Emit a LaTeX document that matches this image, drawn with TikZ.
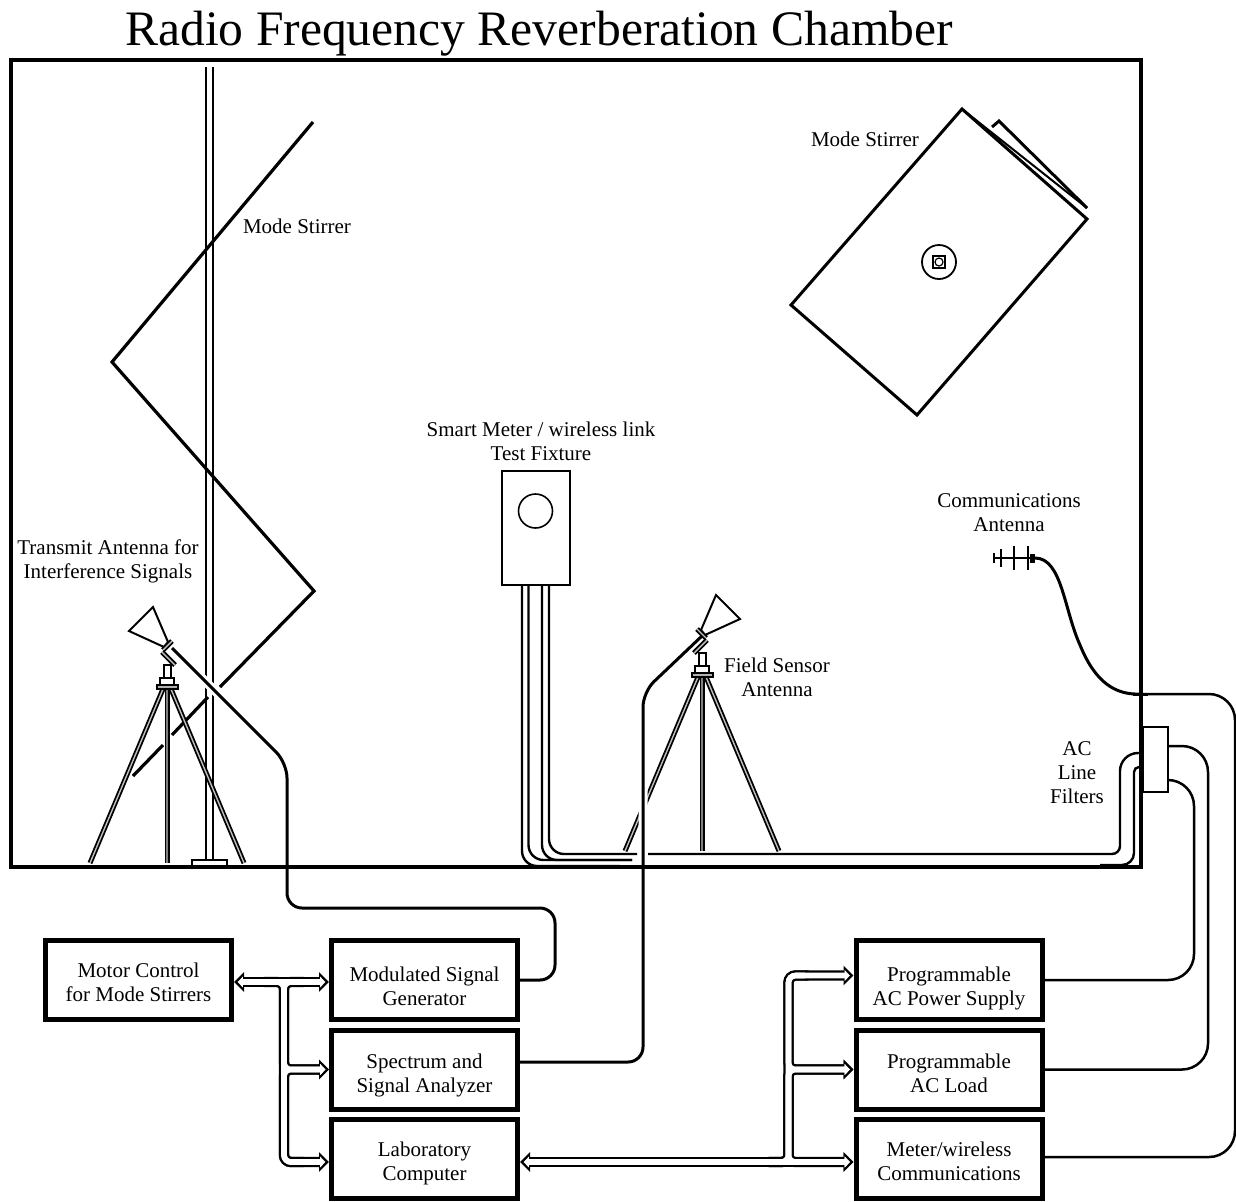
\documentclass[tikz,border=0pt]{standalone}
\usepackage{fontspec}
\setmainfont{Liberation Serif}
\usetikzlibrary{arrows.meta,positioning}
\tikzset{
  instrument/.style={draw,line width=2.5pt,minimum width=93pt,minimum height=39.5pt,align=center,inner sep=0pt,text height=25.5pt},
  caption/.style={align=center,inner sep=0pt},
  cable/.style={line width=1.5pt,rounded corners=7.5pt,preaction={draw=white,line width=4.5pt}},
  wire/.style={line width=1.2pt,rounded corners=7.5pt},
  thin part/.style={line width=1pt,line join=miter},
  leg/.style={double=gray!50,double distance=.7pt,line width=.9pt},
  busblack/.style={line width=5.2pt,rounded corners=3.5pt,>={Triangle[length=5pt,width=9.5pt]}},
  buswhite/.style={white,line width=2.8pt,rounded corners=3.5pt,shorten >=1.8pt,shorten <=1.8pt,>={Triangle[length=2.6pt,width=5.2pt]}},
  antennalegs/.pic={
    \draw[leg] (-4,2)--(-77,176);
    \draw[leg,double=gray] (0,2)--(0,176);
    \draw[leg] (4,2)--(77,176);
  },
  antennahead/.pic={
    \draw[thin part,fill=white] (14,-80)--(38,-56)--(3,-40)--(-1,-45)--cycle;
    \draw[leg] (-5,-46)--(4,-37);
    \draw[leg] (5,-35)--(-8,-22);
    \draw[thin part,fill=white] (-3.5,-22) rectangle (3.5,-9);
    \draw[thin part,fill=white] (-7,-9) rectangle (7,-2);
    \draw[thin part,fill=gray!60] (-10.5,-2) rectangle (10.5,2);
  }
}
\begin{document}
\begin{tikzpicture}[x=0.5pt,y=-0.5pt,every node/.style={font=\fontsize{10.5}{12}\selectfont},node distance=2.75pt]
\useasboundingbox (0,0) rectangle (1236,1201);
\node[inner sep=0pt,font=\fontsize{24.8}{28}\selectfont] (title) at (539,34) {Radio Frequency Reverberation Chamber};

% bench instruments
\node[instrument,text height=26pt] (mod) at (424.5,980) {Modulated Signal\\Generator};
\node[instrument,below=of mod] (spec) {Spectrum and\\Signal Analyzer};
\node[instrument,text height=24pt,below=of spec] (lab) {Laboratory\\Computer};
\node[instrument,text height=22pt,left=47.5pt of mod] (motor) {Motor Control\\for Mode Stirrers};
\node[instrument,text height=28pt] (supply) at (949,980) {Programmable\\AC Power Supply};
\node[instrument,text height=23.5pt,below=of supply] (load) {Programmable\\AC Load};
\node[instrument,text height=22pt,below=of load] (meter) {Meter/wireless\\Communications};

% stirrer on the left, pole first
\draw[line width=1pt] (206,67)--(206,860) (213,67)--(213,860);
\draw[line width=1pt] (192,860) rectangle (227,866);
\draw[line width=1.6pt,line join=miter] (313,122)--(112,362)--(314,591)--(220,687);
\draw[line width=1.6pt] (208,697)--(172,735) (163,745)--(133,776);
\pic[xscale=-1] at (167,687) {antennalegs};
\pic at (702,675) {antennalegs};

% stirrer on the right
\draw[line width=1.5pt,line join=miter] (962,109)--(1087,219)--(917,415)--(791,305)--cycle;
\draw[line width=1pt] (962,109)--(1087,208);
\draw[line width=1.5pt,line join=miter] (992,127)--(999,121)--(1087,208);
\node[draw,circle,line width=.9pt,minimum size=17pt,inner sep=0pt] (hub) at (939,262) {};
\node[draw,line width=.9pt,minimum size=6pt,inner sep=0pt] (hubsquare) at (939,262) {};
\node[draw,circle,line width=.6pt,minimum size=4pt,inner sep=0pt] (hubshaft) at (939,262) {};

% test fixture
\node[draw,line width=1pt,minimum width=34pt,minimum height=57pt,inner sep=0pt] (fixture) at (535.5,528) {};
\node[draw,circle,line width=.8pt,minimum size=17pt,inner sep=0pt] (port) at (535.5,511) {};
\node[draw,line width=1pt,minimum width=12.5pt,minimum height=32.5pt,inner sep=0pt] (filters) at (1155.5,759.5) {};

\coordinate (txfeed) at (172,648);
\coordinate (rxfeed) at (703,635);
\coordinate (acwall) at (1100,865);
\coordinate (fixwall) at (620,866);
\draw[wire] ([xshift=-6.75pt]fixture.south)--(522,866)--(fixwall);
\draw[wire] ([xshift=-3.5pt]fixture.south)--(528.5,860)--(632,860);
\draw[wire] ([xshift=3.25pt]fixture.south)--(542,860)--(632,860);
\draw[wire] ([xshift=6.75pt]fixture.south)--(549,854)--(637,854);
\draw[wire,rounded corners=4pt] (648,854)--(1120,854)[rounded corners=9pt]--(1120,753)--([yshift=3.25pt]filters.west);
\draw[wire,rounded corners=6pt] (acwall)--(1134,865)[rounded corners=2.5pt]--(1134,767)--([yshift=-3.75pt]filters.west);

% cables
\draw[cable] (txfeed)--(287,763)--(287,908)--(555,908)--(555,980)--(mod.east);
\draw[cable] ([yshift=3.75pt]spec.east)--(643,1062)--(643,692)--(rxfeed);
\pic[xscale=-1] at (167,687) {antennahead};
\pic at (702,675) {antennahead};
\draw[line width=1.25pt,rounded corners=13pt] (supply.east)--(1194,980)--(1194,780)--([yshift=-10.25pt]filters.east);
\draw[line width=1.25pt,rounded corners=13pt] (load.east)--(1208,1069.5)--(1208,746)--([yshift=6.75pt]filters.east);

% communications antenna
\coordinate (yagifeed) at (1035,558);
\draw[line width=1pt] (994,558)--(yagifeed) (994,553)--(994,563) (1001,549)--(1001,567) (1014,546)--(1014,570) (1028,546)--(1028,570);
\draw[line width=2.5pt] (1032,554)--(1032,563);
\draw[line width=1.25pt,rounded corners=13pt] ([yshift=1pt]meter.east)--(1235,1157)--(1235,694)--(1140,694);
\draw[line width=1.5pt] (yagifeed) .. controls (1062,558) and (1064,610) .. (1080,645) .. controls (1095,682) and (1115,695) .. (1140,694);
\draw[line width=1.5pt] (1133,694.5)--(1148,694.5);

% chamber wall
\node[draw,line width=2pt,minimum width=565pt,minimum height=403.5pt,inner sep=0pt] (chamber) at (576,463.5) {};

% control buses
\coordinate (lbustop) at (284,982);
\coordinate (lbusmid) at (284,1069.5);
\coordinate (lbusbot) at (284,1162);
\coordinate (rbustop) at (788.5,975.5);
\coordinate (rbusmid) at (788.5,1069.5);
\coordinate (rbusbot) at (788.5,1162);
\foreach \layer in {busblack,buswhite}{
  \draw[\layer,<->] ([yshift=-1pt]motor.east)--([yshift=-1pt]mod.west);
  \draw[\layer,->] (lbustop) ++(-20,0)--(lbustop)--(lbusbot)--([yshift=-1.5pt]lab.west);
  \draw[\layer,->] (lbustop) ++(20,0)--(lbustop)--(lbusmid)--(spec.west);
  \draw[\layer,->] (lbusbot) ++(20,0)--(lbusbot)--(lbusmid)--(spec.west);
  \draw[\layer,<->] ([yshift=-1.5pt]lab.east)--([yshift=-1.5pt]meter.west);
  \draw[\layer,->] (rbusbot) ++(-20,0)--(rbusbot)--(rbustop)--([yshift=2.25pt]supply.west);
  \draw[\layer,->] (rbustop) ++(20,0)--(rbustop)--(rbusmid)--(load.west);
  \draw[\layer,->] (rbusbot) ++(-20,0)--(rbusbot)--(rbusmid)--(load.west);
  \draw[\layer,->] (rbusmid) ++(0,20)--(rbusmid)--(rbusbot)--([yshift=-1.5pt]meter.west);
}

% labels
\node[caption] (stirrerleft) at (297,226) {Mode Stirrer};
\node[caption] (stirrerright) at (865,139) {Mode Stirrer};
\node[caption] (fixturelabel) at (541,441) {Smart Meter / wireless link\\Test Fixture};
\node[caption] (commslabel) at (1009,513) {Communications\\Antenna};
\node[caption] (txlabel) at (108,561) {Transmit Antenna for\\Interference Signals};
\node[caption] (rxlabel) at (777,677) {Field Sensor\\Antenna};
\node[caption] (filterlabel) at (1077,773) {AC\\Line\\Filters};
\end{tikzpicture}
\end{document}
